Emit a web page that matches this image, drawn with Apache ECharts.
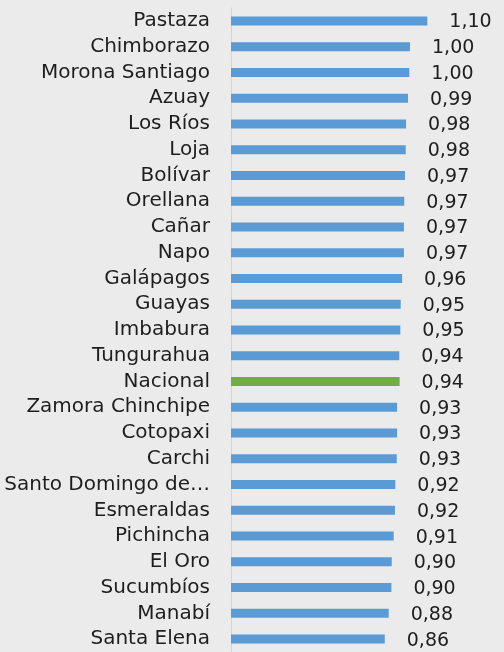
<!DOCTYPE html>
<html>
<head>
<meta charset="utf-8">
<script src="https://cdn.jsdelivr.net/npm/echarts@6/dist/echarts.min.js"></script>
<style>
html,body{margin:0;padding:0;background:#ebebeb;}
#chart{width:504px;height:652px;}
</style>
</head>
<body>
<div id="chart"></div>
<script>
const categories = ["Pastaza","Chimborazo","Morona Santiago","Azuay","Los Ríos","Loja","Bolívar","Orellana","Cañar","Napo","Galápagos","Guayas","Imbabura","Tungurahua","Nacional","Zamora Chinchipe","Cotopaxi","Carchi","Santo Domingo de los Tsáchilas","Esmeraldas","Pichincha","El Oro","Sucumbíos","Manabí","Santa Elena"];
const values = [1.097,1.000,0.996,0.989,0.978,0.976,0.972,0.968,0.966,0.966,0.956,0.948,0.946,0.940,0.942,0.928,0.928,0.926,0.918,0.916,0.909,0.898,0.896,0.881,0.859];
const highlight = "Nacional";
const blue = "#5b9bd5", green = "#70ad47";

const chart = echarts.init(document.getElementById('chart'), null, {renderer:'canvas'});
chart.setOption({
  backgroundColor: '#ebebeb',
  animation: false,
  grid: {left: 231, top: 8, height: 644, width: 214.8, containLabel: false},
  xAxis: {type: 'value', min: 0, max: 1.2, show: false},
  yAxis: {
    type: 'category', data: categories, inverse: true,
    axisLine: {show: true, lineStyle: {color: '#d4d4d4', width: 1}},
    axisTick: {show: false},
    axisLabel: {
      interval: 0,
      fontFamily: 'DejaVu Sans', fontSize: 20, color: '#1e1e1e', margin: 21,
      width: 207, overflow: 'truncate', ellipsis: '…'
    }
  },
  series: [{
    type: 'bar', barWidth: 9,
    data: values.map((v, i) => ({value: v, itemStyle: {color: categories[i] === highlight ? green : blue}})),
    label: {
      show: true, position: 'right', distance: 22, offset: [0, 1.5],
      fontFamily: 'DejaVu Sans', fontSize: 19, color: '#1e1e1e',
      formatter: p => p.value.toFixed(2).replace('.', ',')
    }
  }]
});
</script>
</body>
</html>
